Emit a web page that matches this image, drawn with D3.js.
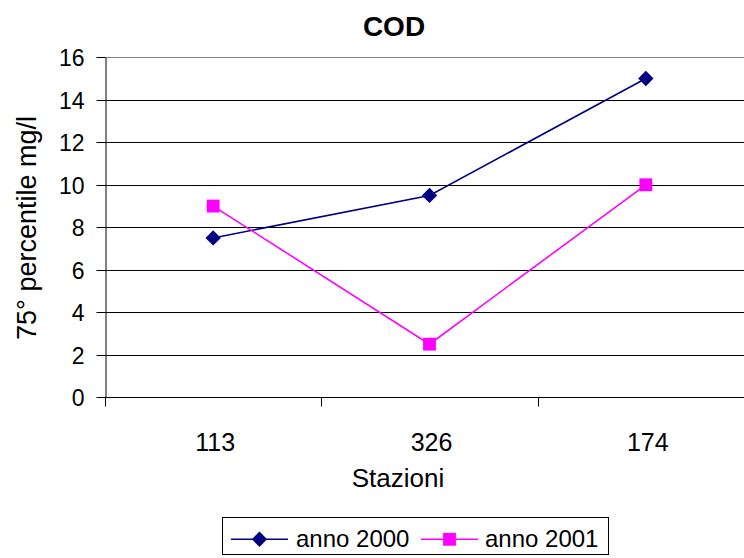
<!DOCTYPE html>
<html>
<head>
<meta charset="utf-8">
<script src="https://cdn.jsdelivr.net/npm/d3@7"></script>
<style>
  html, body { margin: 0; padding: 0; background: #fff; }
  svg { display: block; font-family: "Liberation Sans", Arial, sans-serif; }
</style>
</head>
<body>
<svg id="chart" width="744" height="558"></svg>
<script>
// Stations and 75th percentile COD values (mg/l)
const stations = ["113", "326", "174"];
const values2000 = [7.5, 9.5, 15];
const values2001 = [9, 2.5, 10];
const yTicks = [0, 2, 4, 6, 8, 10, 12, 14, 16];
const seriesNames = ["anno 2000", "anno 2001"];

const svg = d3.select("#chart");
const plot = { left: 105, right: 754, top: 57.3, bottom: 397.3 };

const x = d3.scaleBand().domain(stations).range([plot.left, plot.right]).padding(0);
const y = d3.scaleLinear().domain([0, 16]).range([plot.bottom, plot.top]);

// Horizontal gridlines
svg.append("g")
  .selectAll("line")
  .data(yTicks.filter(t => t > 0))
  .join("line")
  .attr("x1", plot.left).attr("x2", plot.right)
  .attr("y1", d => Math.round(y(d)) + 0.5).attr("y2", d => Math.round(y(d)) + 0.5)
  .attr("stroke", d => d === 16 ? "#808080" : "#000")
  .attr("stroke-width", 1);

// Y axis
const yAxis = svg.append("g")
  .attr("transform", `translate(${plot.left + 0.5},0)`)
  .call(d3.axisLeft(y).tickValues(yTicks).tickSize(9).tickPadding(4).tickSizeOuter(0));
yAxis.select(".domain").attr("stroke", "#000");
yAxis.selectAll(".tick line").attr("stroke", "#000");
yAxis.selectAll(".tick").attr("transform", d => `translate(0,${Math.round(y(d)) + 0.5})`);
yAxis.selectAll(".tick text")
  .attr("font-size", 23).attr("fill", "#000")
  .attr("font-family", "Liberation Sans, Arial, sans-serif")
  .attr("x", -21).attr("dy", "0.36em");

// X axis with ticks at category boundaries
const xAxisG = svg.append("g").attr("transform", `translate(0,${Math.round(plot.bottom) + 0.5})`);
xAxisG.append("line")
  .attr("x1", plot.left).attr("x2", plot.right)
  .attr("stroke", "#000");
const boundaries = stations.map(s => x(s)).concat([x(stations[stations.length - 1]) + x.bandwidth()]);
xAxisG.selectAll("line.tk")
  .data(boundaries)
  .join("line").attr("class", "tk")
  .attr("x1", d => Math.round(d) + 0.5).attr("x2", d => Math.round(d) + 0.5)
  .attr("y1", 0).attr("y2", 9)
  .attr("stroke", "#000");
xAxisG.selectAll("text")
  .data(stations)
  .join("text")
  .attr("x", d => x(d) + x.bandwidth() / 2 + 2)
  .attr("y", 53)
  .attr("text-anchor", "middle")
  .attr("font-size", 25)
  .attr("fill", "#000")
  .text(d => d);

// Title and axis titles
svg.append("text")
  .attr("x", 394).attr("y", 36)
  .attr("text-anchor", "middle")
  .attr("font-size", 28).attr("font-weight", "bold")
  .text("COD");

svg.append("text")
  .attr("x", 398).attr("y", 487)
  .attr("text-anchor", "middle")
  .attr("font-size", 26)
  .text("Stazioni");

svg.append("text")
  .attr("transform", "translate(36,228) rotate(-90)")
  .attr("text-anchor", "middle")
  .attr("font-size", 27)
  .text("75° percentile mg/l");

// Marker shapes: diamond is a square turned by 45 degrees
const series = [
  { name: seriesNames[0], values: values2000, color: "#000080", shape: d3.symbolSquare, size: 118, rot: 45 },
  { name: seriesNames[1], values: values2001, color: "#FF00FF", shape: d3.symbolSquare, size: 165, rot: 0 }
];

const line = d3.line()
  .x((d, i) => x(stations[i]) + x.bandwidth() / 2)
  .y(d => y(d));

series.forEach(s => {
  svg.append("path")
    .datum(s.values)
    .attr("fill", "none")
    .attr("stroke", s.color)
    .attr("stroke-width", 1.6)
    .attr("d", line);
  svg.append("g")
    .selectAll("path")
    .data(s.values)
    .join("path")
    .attr("transform", (d, i) => `translate(${x(stations[i]) + x.bandwidth() / 2},${y(d)}) rotate(${s.rot})`)
    .attr("d", d3.symbol().type(s.shape).size(s.size))
    .attr("fill", s.color);
});

// Legend
const legend = svg.append("g");
legend.append("rect")
  .attr("x", 222.5).attr("y", 517.5)
  .attr("width", 386).attr("height", 37)
  .attr("fill", "#fff").attr("stroke", "#000");
const legendItems = [
  { x0: 231, x1: 288, tx: 296 },
  { x0: 421, x1: 478, tx: 485 }
];
series.forEach((s, i) => {
  const it = legendItems[i];
  const cy = 539.3;
  legend.append("line")
    .attr("x1", it.x0).attr("x2", it.x1)
    .attr("y1", cy).attr("y2", cy)
    .attr("stroke", s.color).attr("stroke-width", 1.6);
  legend.append("path")
    .attr("transform", `translate(${(it.x0 + it.x1) / 2},${cy}) rotate(${s.rot})`)
    .attr("d", d3.symbol().type(s.shape).size(s.size))
    .attr("fill", s.color);
  legend.append("text")
    .attr("x", it.tx).attr("y", 547)
    .attr("font-size", 24)
    .text(s.name);
});
</script>
</body>
</html>
